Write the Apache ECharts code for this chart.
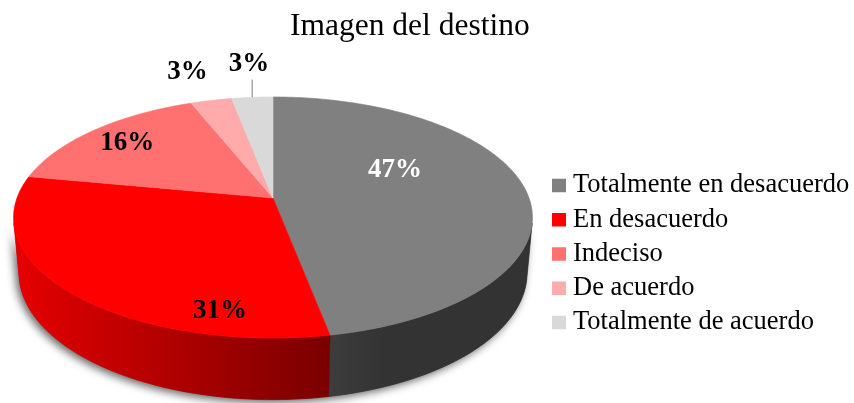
<!DOCTYPE html>
<html><head><meta charset="utf-8">
<script src="https://cdn.jsdelivr.net/npm/echarts@6/dist/echarts.min.js"></script>
<style>html,body{margin:0;padding:0;background:#fff}#c{width:854px;height:403px}</style>
</head><body><div id="c"></div>
<script>
// ---- data ----
const chartTitle = 'Imagen del destino';
const categories = ['Totalmente en desacuerdo', 'En desacuerdo', 'Indeciso', 'De acuerdo', 'Totalmente de acuerdo'];
const values = [47, 31, 16, 3, 3];
const colors = ['#808080', '#FF0000', '#FF7171', '#FFABAB', '#D9D9D9'];

// ---- layout (3D perspective pie) ----
const P = { cx: 273, cy: 198, F: 1403, D: 5.48, sn: 0.4586, cs: 0.888, h: 0.245 };
// label placement: t = fraction along slice, r = radius fraction
const labelLayout = [
  { t: 0.375, r: 0.554, color: '#fff' },
  { t: 0.206, r: 0.85, color: '#000' },
  { t: 0.5, r: 0.8, color: '#000' },
  { t: 0.4, r: 1.36, color: '#000' },
  { t: 0.565, r: 1.41, color: '#000', leader: true }
];

const total = values.reduce((s, v) => s + v, 0);
const starts = [];
(function () { let acc = 0; values.forEach(v => { starts.push(acc / total * 360); acc += v; }); })();

function proj(X, Y, Z) {
  const depth = P.D - (Y * P.sn + Z * P.cs);
  const yc = Y * P.cs - Z * P.sn;
  return [P.cx + P.F * X / depth, P.cy - P.F * yc / depth];
}
function rim(phi, r, Y) {
  const p = phi * Math.PI / 180;
  return proj(r * Math.sin(p), Y, -r * Math.cos(p));
}
function arc(a, b, r, Y) {
  const n = Math.max(2, Math.ceil((b - a) / 1));
  const pts = [];
  for (let k = 0; k <= n; k++) pts.push(rim(a + (b - a) * k / n, r, Y));
  return pts;
}
function sidePoly(a, b) {
  return arc(a, b, 1, 0).concat(arc(a, b, 1, -P.h).reverse());
}
function shade(hex, f) {
  const n = parseInt(hex.slice(1), 16);
  const r = Math.round(((n >> 16) & 255) * f), g = Math.round(((n >> 8) & 255) * f), b = Math.round((n & 255) * f);
  return 'rgb(' + r + ',' + g + ',' + b + ')';
}
function sideFill(hex) {
  const x0 = P.cx - 260, x1 = P.cx + 260;
  return {
    type: 'linear', x: x0, y: 0, x2: x1, y2: 0, global: true,
    colorStops: [
      { offset: 0, color: shade(hex, 0.9) },
      { offset: 0.615, color: shade(hex, 0.47) },
      { offset: 0.715, color: shade(hex, 0.4) },
      { offset: 1, color: shade(hex, 0.4) }
    ]
  };
}
const phiS = Math.acos(-1 / (P.D * P.cs)) * 180 / Math.PI;

function renderSlice(i, api) {
  const a = starts[i];
  const b = a + api.value(0) / total * 360;
  const color = colors[i];
  const children = [];
  if (i === 0) {
    children.push({
      type: 'polygon', shape: { points: sidePoly(phiS, 360 - phiS) },
      style: { fill: '#555', shadowBlur: 9, shadowOffsetX: -3, shadowOffsetY: 3, shadowColor: 'rgba(0,0,0,0.6)' }
    });
  }
  const lo = Math.max(a, phiS), hi = Math.min(b, 360 - phiS);
  if (hi > lo) {
    const g = sideFill(color);
    children.push({ type: 'polygon', shape: { points: sidePoly(lo, hi) }, style: { fill: g, stroke: g, lineWidth: 0.6 } });
  }
  const topPts = [proj(0, 0, 0)].concat(arc(a, b, 1, 0));
  children.push({ type: 'polygon', shape: { points: topPts }, style: { fill: color, stroke: color, lineWidth: 0.6 } });

  const L = labelLayout[i];
  const phiL = a + (b - a) * L.t;
  const lp = rim(phiL, L.r, 0);
  if (L.leader) {
    const mid = (a + b) / 2;
    const s = rim(mid, 1, 0);
    children.push({ type: 'line', shape: { x1: s[0], y1: s[1], x2: s[0], y2: lp[1] + 16 }, style: { stroke: '#A6A6A6', lineWidth: 1.5 } });
  }
  children.push({
    type: 'text',
    style: {
      text: Math.round(api.value(0) / total * 100) + '%',
      x: lp[0], y: lp[1],
      fill: L.color,
      fontFamily: 'Liberation Serif', fontSize: 27, fontWeight: 'bold',
      align: 'center', verticalAlign: 'middle'
    }
  });
  return { type: 'group', children: children };
}

const chart = echarts.init(document.getElementById('c'), null, { renderer: 'canvas' });
chart.setOption({
  animation: false,
  backgroundColor: '#fff',
  title: {
    text: chartTitle, left: 290, top: 11, padding: 0,
    textStyle: { fontFamily: 'Liberation Serif', fontSize: 31.5, fontWeight: 'normal', color: '#000' }
  },
  legend: {
    orient: 'vertical', left: 552, top: 172, padding: 0, icon: 'rect',
    itemWidth: 14, itemHeight: 13.5, itemGap: 7.25, selectedMode: false,
    textStyle: { fontFamily: 'Liberation Serif', fontSize: 26.5, lineHeight: 26.5, color: '#000', padding: [0, 0, 0, 2] },
    data: categories
  },
  series: categories.map((name, i) => ({
    type: 'custom', name: name, coordinateSystem: 'none',
    data: [values[i]], itemStyle: { color: colors[i] },
    renderItem: (params, api) => renderSlice(i, api)
  }))
});
</script>
</body></html>
